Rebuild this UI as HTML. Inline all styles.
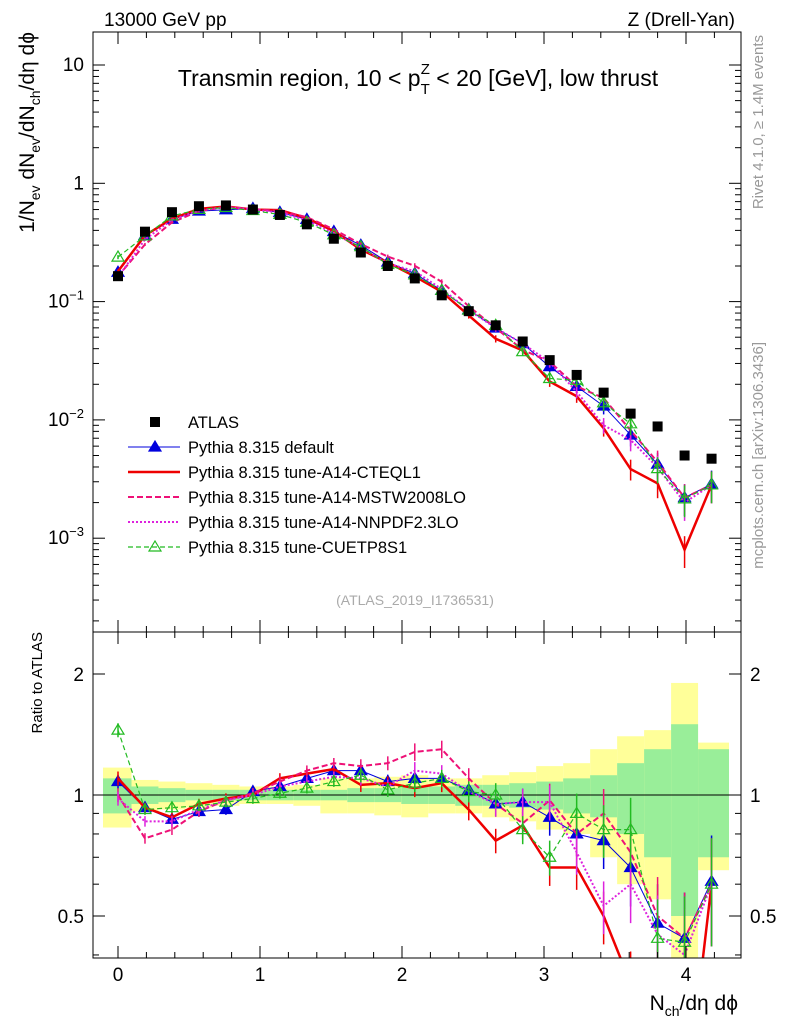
<!DOCTYPE html>
<html><head><meta charset="utf-8"><style>
html,body{margin:0;padding:0;background:#fff;overflow:hidden;width:786px;height:1024px;}
svg{display:block;font-family:"Liberation Sans",sans-serif;}
</style></head><body>
<svg id="c" width="786" height="1024"></svg>
<script>
const xs=[0,0.19,0.38,0.57,0.76,0.95,1.14,1.33,1.52,1.71,1.9,2.09,2.28,2.47,2.66,2.85,3.04,3.23,3.42,3.61,3.8,3.99,4.18];
const atlas=[0.164,0.39,0.57,0.64,0.65,0.60,0.54,0.45,0.34,0.26,0.20,0.157,0.113,0.083,0.063,0.046,0.032,0.024,0.017,0.0113,0.0088,0.0050,0.0047];
const rDefault=[1.08,0.93,0.87,0.91,0.92,1.02,1.05,1.1,1.15,1.15,1.08,1.1,1.1,1.03,0.95,0.96,0.88,0.8,0.77,0.66,0.48,0.44,0.61];
const rCteq=[1.1,0.93,0.88,0.95,0.98,1.0,1.1,1.13,1.16,1.06,1.07,1.04,1.07,0.92,0.77,0.84,0.66,0.66,0.5,0.34,0.33,0.16,0.6];
const rMstw=[1.0,0.78,0.82,0.91,0.97,1.01,1.08,1.15,1.2,1.18,1.2,1.28,1.3,1.1,0.95,0.85,0.97,0.8,0.9,0.72,0.5,0.44,0.6];
const rNnpdf=[0.98,0.86,0.86,0.92,0.97,1.0,1.05,1.08,1.11,1.1,1.05,1.15,1.13,1.02,0.95,0.96,0.96,0.72,0.53,0.6,0.45,0.4,0.6];
const rCuetp=[1.45,0.92,0.93,0.94,0.96,0.98,1.01,1.04,1.08,1.12,1.03,1.07,1.1,1.02,1.0,0.82,0.7,0.9,0.82,0.82,0.44,0.43,0.6];
const mcErr=[0.04,0.03,0.03,0.03,0.03,0.03,0.03,0.03,0.03,0.04,0.04,0.05,0.05,0.06,0.07,0.08,0.1,0.12,0.15,0.2,0.25,0.3,0.3];
const statBand=[0.1,0.05,0.04,0.03,0.03,0.03,0.03,0.03,0.03,0.04,0.04,0.05,0.05,0.06,0.06,0.07,0.08,0.1,0.12,0.2,0.3,0.5,0.3];
const totBand=[0.17,0.09,0.08,0.07,0.06,0.05,0.05,0.06,0.1,0.1,0.11,0.12,0.1,0.1,0.12,0.14,0.18,0.2,0.3,0.4,0.45,0.9,0.35];
const yTickLabels=["10^-3","10^-2","10^-1","1","10"];
const xTickLabels=["0","1","2","3","4"];
const rTickLabels=["0.5","1","2"];

const NS="http://www.w3.org/2000/svg",svg=document.getElementById('c');
function el(t,a,p){const e=document.createElementNS(NS,t);for(const k in a)e.setAttribute(k,a[k]);(p||svg).appendChild(e);return e;}
const L=93,R=741,T1=32,B1=632,T2=632,B2=958;
const X=v=>118+v*142;
const Y=v=>65+(1-Math.log10(v))*118.3;
const YR=r=>795-121*Math.log2(r);
const clampR=y=>Math.max(T2,Math.min(B2,y));
const clampT=y=>Math.max(T1,Math.min(B1,y));

const gb=el('g',{});
for(let i=0;i<xs.length;i++){
  const x0=i==0?103:X((xs[i-1]+xs[i])/2), x1=i==xs.length-1?729:X((xs[i]+xs[i+1])/2);
  const yt=el('rect',{x:x0,y:clampR(YR(1+totBand[i])),width:x1-x0,height:clampR(YR(Math.max(0.01,1-totBand[i])))-clampR(YR(1+totBand[i])),fill:'#ffff99'},gb);
  
  const s=el('rect',{x:x0,y:clampR(YR(1+statBand[i])),width:x1-x0,height:clampR(YR(Math.max(0.01,1-statBand[i])))-clampR(YR(1+statBand[i])),fill:'#99ee99'},gb);
  
}
el('line',{x1:L,x2:R,y1:YR(1),y2:YR(1),stroke:'#000','stroke-width':1});

const series=[
 {name:'default',r:rDefault,c:'#0000dd',dash:'',w:1,m:'tri'},
 {name:'cteql1',r:rCteq,c:'#ee0000',dash:'',w:2.5,m:''},
 {name:'mstw2008lo',r:rMstw,c:'#ee1177',dash:'6,3',w:2,m:''},
 {name:'nnpdf23lo',r:rNnpdf,c:'#dd22dd',dash:'2,2',w:2,m:''},
 {name:'cuetp8s1',r:rCuetp,c:'#22bb22',dash:'5,3',w:1.2,m:'otri'}];
function tri(g,x,y,c,open){const p=`${x},${y-6} ${x-6},${y+4} ${x+6},${y+4}`;const t=el('polygon',{points:p,fill:open?'none':c,stroke:c,'stroke-width':1.2},g);return t;}
const cp=el('clipPath',{id:'cr'});el('rect',{x:L,y:T2,width:R-L,height:B2-T2},cp);
series.forEach(s=>{
  const gt=el('g',{});
  const gr=el('g',{});
  let pt=[],pr=[];
  xs.forEach((x,i)=>{
    const v=atlas[i]*s.r[i],e=mcErr[i];
    pt.push(X(x)+','+Y(v));pr.push(X(x)+','+YR(s.r[i]));
    el('line',{x1:X(x),x2:X(x),y1:clampT(Y(v*(1+e))),y2:clampT(Y(Math.max(1e-5,v*(1-e)))),stroke:s.c,'stroke-width':1.5},gt);
    el('line',{x1:X(x),x2:X(x),y1:clampR(YR(s.r[i]*(1+e))),y2:clampR(YR(Math.max(0.01,s.r[i]*(1-e)))),stroke:s.c,'stroke-width':1.5},gr);
  });
  el('polyline',{points:pt.join(' '),fill:'none',stroke:s.c,'stroke-width':s.w,'stroke-dasharray':s.dash},gt);
  el('polyline',{points:pr.join(' '),fill:'none',stroke:s.c,'stroke-width':s.w,'stroke-dasharray':s.dash,'clip-path':'url(#cr)'},gr);
  if(s.m) xs.forEach((x,i)=>{tri(gt,X(x),Y(atlas[i]*s.r[i]),s.c,s.m=='otri');if(YR(s.r[i])<B2)tri(gr,X(x),YR(s.r[i]),s.c,s.m=='otri');});
});
const ga=el('g',{});
xs.forEach((x,i)=>{const r=el('rect',{x:X(x)-5,y:Y(atlas[i])-5,width:10,height:10,fill:'#000'},ga);});

el('rect',{x:L,y:T1,width:R-L,height:B1-T1,fill:'none',stroke:'#000','stroke-width':1});
el('rect',{x:L,y:T2,width:R-L,height:B2-T2,fill:'none',stroke:'#000','stroke-width':1});
for(let d=-4;d<=1;d++)for(let k=1;k<10;k++){const v=k*Math.pow(10,d),y=Y(v);if(y<T1||y>B1)continue;const len=k==1?12:6;
  el('line',{x1:L,x2:L+len,y1:y,y2:y,stroke:'#000'});el('line',{x1:R,x2:R-len,y1:y,y2:y,stroke:'#000'});}
[0.4,0.5,0.6,0.7,0.8,0.9,1,2].forEach(v=>{const y=YR(v),len=(v==0.5||v==1||v==2)?12:6;
  el('line',{x1:L,x2:L+len,y1:y,y2:y,stroke:'#000'});el('line',{x1:R,x2:R-len,y1:y,y2:y,stroke:'#000'});});
for(let k=-1;k<=21;k++){const v=k*0.2,x=X(v);if(x<L||x>R)continue;const len=k%5==0?12:6;
  [[T1,1],[B1,-1],[T2,1],[B2,-1]].forEach(([y,s])=>el('line',{x1:x,x2:x,y1:y,y2:y+s*len,stroke:'#000'}));}
function txt(s,a,name){const t=el('text',a);t.textContent=s;return t;}
[0.001,0.01,0.1,1,10].forEach((v,i)=>{const lab=yTickLabels[i];const t=el('text',{x:84,y:Y(v)+6,'font-size':19,'text-anchor':'end'});
 
 if(lab.includes('^')){const [b,e]=lab.split('^');t.textContent=b;const ts=el('tspan',{dy:-8,'font-size':13},t);ts.textContent=e.replace('-','\u2212');}else t.textContent=lab;});
[0.5,1,2].forEach((v,i)=>{txt(rTickLabels[i],{x:84,y:YR(v)+7,'font-size':19,'text-anchor':'end'},'ratio-tick-label');
 txt(rTickLabels[i],{x:750,y:YR(v)+7,'font-size':19},'ratio-tick-label-right');});
xTickLabels.forEach((l,i)=>txt(l,{x:X(i),y:981,'font-size':19,'text-anchor':'middle'},'x-tick-label'));
txt('13000 GeV pp',{x:104,y:26,'font-size':19},'header-left');
txt('Z (Drell-Yan)',{x:735,y:26,'font-size':19,'text-anchor':'end'},'header-right');
const tt=el('text',{x:418,y:86,'font-size':23,'text-anchor':'middle'});
tt.innerHTML='Transmin region, 10 &lt; p<tspan dy="8" font-size="15">T</tspan><tspan dy="-20" dx="-9" font-size="15">Z</tspan><tspan dy="12"> &lt; 20 [GeV], low thrust</tspan>';
const xt=el('text',{x:738,y:1010,'font-size':21,'text-anchor':'end'});
xt.innerHTML='N<tspan dy="6" font-size="14">ch</tspan><tspan dy="-6">/dη dϕ</tspan>';
const yt=el('text',{x:0,y:0,'font-size':21,'text-anchor':'end',transform:'translate(34,32) rotate(-90)'});
yt.innerHTML='1/N<tspan dy="6" font-size="14">ev</tspan><tspan dy="-6"> dN</tspan><tspan dy="6" font-size="14">ev</tspan><tspan dy="-6">/dN</tspan><tspan dy="6" font-size="14">ch</tspan><tspan dy="-6">/dη dϕ</tspan>';
txt('Ratio to ATLAS',{x:0,y:0,'font-size':15,'text-anchor':'end',transform:'translate(42,632) rotate(-90)'},'ratio-axis-title');
txt('Rivet 4.1.0, ≥ 1.4M events',{x:0,y:0,'font-size':15,fill:'#999','text-anchor':'end',transform:'translate(763,35) rotate(-90)'},'rivet-label');
txt('mcplots.cern.ch [arXiv:1306.3436]',{x:0,y:0,'font-size':15,fill:'#999','text-anchor':'end',transform:'translate(763,342) rotate(-90)'},'mcplots-label');
txt('(ATLAS_2019_I1736531)',{x:415,y:605,'font-size':14,fill:'#aaa','text-anchor':'middle'},'analysis-id');
const lg=el('g',{});
const names=['ATLAS','Pythia 8.315 default','Pythia 8.315 tune-A14-CTEQL1','Pythia 8.315 tune-A14-MSTW2008LO','Pythia 8.315 tune-A14-NNPDF2.3LO','Pythia 8.315 tune-CUETP8S1'];
names.forEach((n,i)=>{const y=422+i*25;const g=el('g',{},lg);
 if(i==0)el('rect',{x:150,y:y-5,width:10,height:10,fill:'#000'},g);
 else{const s=series[i-1];el('line',{x1:128,x2:180,y1:y,y2:y,stroke:s.c,'stroke-width':s.w,'stroke-dasharray':s.dash},g);if(s.m)tri(g,155,y,s.c,s.m=='otri');}
 const t=el('text',{x:188,y:y+6,'font-size':16.5},g);t.textContent=n;});
</script>
</body></html>
